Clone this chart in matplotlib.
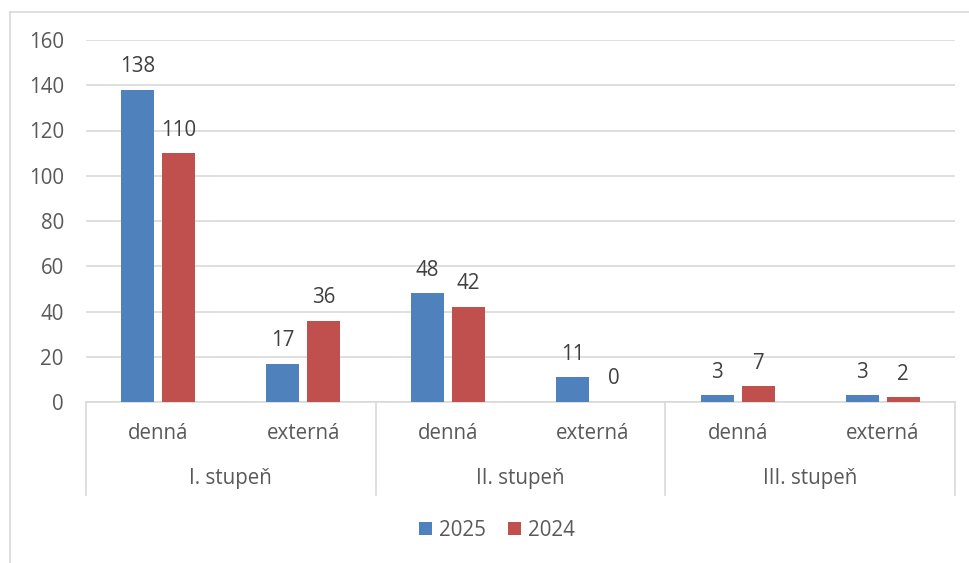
import matplotlib.pyplot as plt
from matplotlib.lines import Line2D
import numpy as np

plt.rcParams['font.family'] = ['Open Sans', 'DejaVu Sans']

# data
groups = ["I. stupeň", "II. stupeň", "III. stupeň"]
forms = ["denná", "externá"]
series_names = ["2025", "2024"]
vals_2025 = [138, 17, 48, 11, 3, 3]
vals_2024 = [110, 36, 42, 0, 7, 2]
yticks = [0, 20, 40, 60, 80, 100, 120, 140, 160]

blue = "#4F81BD"
red = "#C0504D"
grid_c = "#D9D9D9"
txt_c = "#595959"
fs = 14.8

fig = plt.figure(figsize=(9.7, 5.63), dpi=100)
ax = fig.add_axes([86 / 970, 1 - 402 / 563, 869 / 970, 362 / 563])

x = np.arange(len(vals_2025))
w = 0.228
off = 0.1416
b1 = ax.bar(x - off, vals_2025, w, color=blue, label=series_names[0], zorder=3)
b2 = ax.bar(x + off, vals_2024, w, color=red, label=series_names[1], zorder=3)

for bars in (b1, b2):
    for rect in bars:
        h = rect.get_height()
        ax.annotate(str(int(h)), (rect.get_x() + rect.get_width() / 2, h),
                    xytext=(0, 9), textcoords="offset points",
                    ha="center", va="bottom", fontsize=fs, color="#404040")

ax.set_xlim(-0.5, len(x) - 0.5)
ax.set_ylim(0, 160)
ax.set_yticks(yticks)
ax.tick_params(axis="y", length=0, labelsize=fs, labelcolor=txt_c, pad=16)
ax.set_xticks([])
ax.yaxis.grid(True, color=grid_c, linewidth=1.2, zorder=0)
for s in ["top", "right", "left"]:
    ax.spines[s].set_visible(False)
ax.spines["bottom"].set_color(grid_c)
ax.spines["bottom"].set_linewidth(1.2)

# multi-level category axis
trans = ax.get_xaxis_transform()
for i in range(len(x)):
    ax.text(x[i], -0.088, forms[i % 2], transform=trans, ha="center", va="center",
            fontsize=fs, color=txt_c)
for g, name in enumerate(groups):
    ax.text(2 * g + 0.5, -0.21, name, transform=trans, ha="center", va="center",
            fontsize=fs, color=txt_c)
for xs in [-0.5, 1.5, 3.5, 5.5]:
    ax.add_line(Line2D([xs, xs], [0, -0.257], transform=trans, color=grid_c,
                       linewidth=1.2, clip_on=False))

leg = fig.legend(handles=[b1, b2], labels=series_names, loc="center",
                 bbox_to_anchor=(497 / 970, 1 - 530 / 563), ncol=2, frameon=False,
                 fontsize=fs, handlelength=0.6, handleheight=0.6,
                 handletextpad=0.35, columnspacing=1.1)
for t in leg.get_texts():
    t.set_color(txt_c)

# chart border (cropped on right and bottom)
fig.add_artist(Line2D([10 / 970, 10 / 970], [0, 1 - 12 / 563], transform=fig.transFigure,
                      color=grid_c, linewidth=1.2))
fig.add_artist(Line2D([10 / 970, 1], [1 - 12 / 563, 1 - 12 / 563], transform=fig.transFigure,
                      color=grid_c, linewidth=1.2))

fig.savefig("out.png", dpi=100)
